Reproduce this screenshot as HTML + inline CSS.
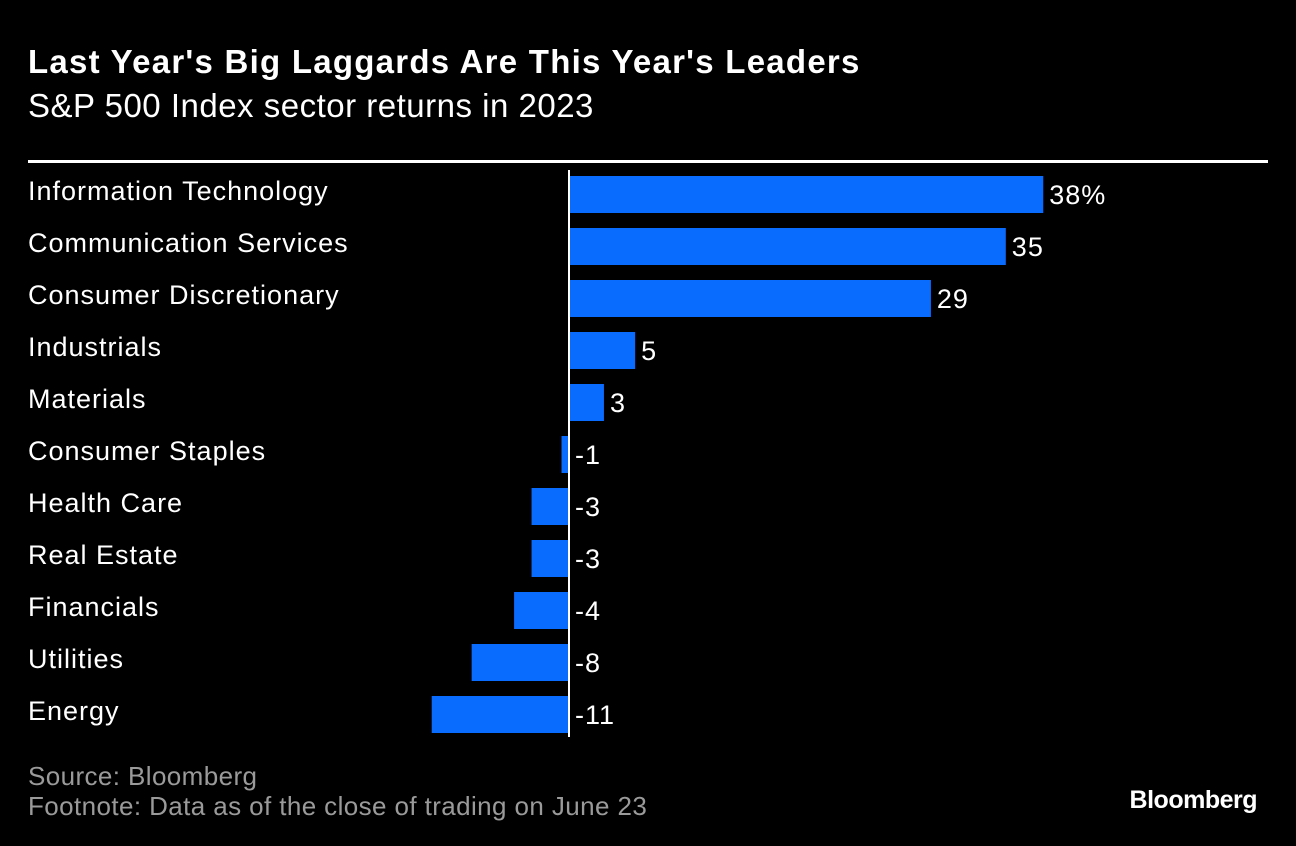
<!DOCTYPE html>
<html><head><meta charset="utf-8"><style>
body{margin:0;background:#000;width:1296px;height:846px;overflow:hidden;font-family:"Liberation Sans",sans-serif;color:#fff;position:relative}
.t{position:absolute;left:28px;white-space:nowrap}
</style></head><body>
<div class="t" style="top:43px;font-size:33px;font-weight:bold;letter-spacing:1.25px">Last Year's Big Laggards Are This Year's Leaders</div>
<div class="t" style="top:87px;font-size:33px;letter-spacing:0.5px">S&amp;P 500 Index sector returns in 2023</div>
<div style="position:absolute;left:28px;top:160px;width:1240px;height:3px;background:#fff"></div>
<svg id="chart" width="1296" height="760" style="position:absolute;left:0;top:0"></svg>
<div class="t" style="top:761px;font-size:26px;letter-spacing:0.4px;color:#9a9a9a">Source: Bloomberg</div>
<div class="t" style="top:791px;font-size:26px;letter-spacing:0.4px;color:#9a9a9a">Footnote: Data as of the close of trading on June 23</div>
<div class="t" style="left:auto;right:39px;top:786px;font-size:25px;font-weight:bold;letter-spacing:-0.5px">Bloomberg</div>
<script>
const categories=["Information Technology","Communication Services","Consumer Discretionary","Industrials","Materials","Consumer Staples","Health Care","Real Estate","Financials","Utilities","Energy"];
const values=[38,35,29,5.3,2.8,-0.6,-3,-3,-4.4,-7.8,-11];
const valueLabels=["38%","35","29","5","3","-1","-3","-3","-4","-8","-11"];
const NS="http://www.w3.org/2000/svg";
const svg=document.getElementById("chart");
const x0=569, scale=12.48;
const xs=v=>x0+v*scale;
const rowY=i=>176+i*52;
const barH=37;
function mk(tag,attrs){const e=document.createElementNS(NS,tag);for(const k in attrs)e.setAttribute(k,attrs[k]);svg.appendChild(e);return e;}
categories.forEach((c,i)=>{
  const y=rowY(i);
  const lab=mk("text",{x:28,y:y+24,fill:"#fff","font-size":"27","letter-spacing":"1","font-family":"Liberation Sans, sans-serif"});
  lab.textContent=c;
  
  
  const v=values[i];
  const bx=Math.min(xs(0),xs(v)), bw=Math.abs(xs(v)-xs(0));
  const r=mk("rect",{x:bx,y:y,width:bw,height:barH,fill:"#0a6cff"});
  
  
  const tx=v>=0?xs(v)+6:xs(0)+6;
  const vl=mk("text",{x:tx,y:y+28,fill:"#fff","font-size":"27","letter-spacing":"1","font-family":"Liberation Sans, sans-serif"});
  vl.textContent=valueLabels[i];
  
  
});
const ax=mk("line",{x1:x0,x2:x0,y1:170,y2:737,stroke:"#fff","stroke-width":2});


</script>
</body></html>
